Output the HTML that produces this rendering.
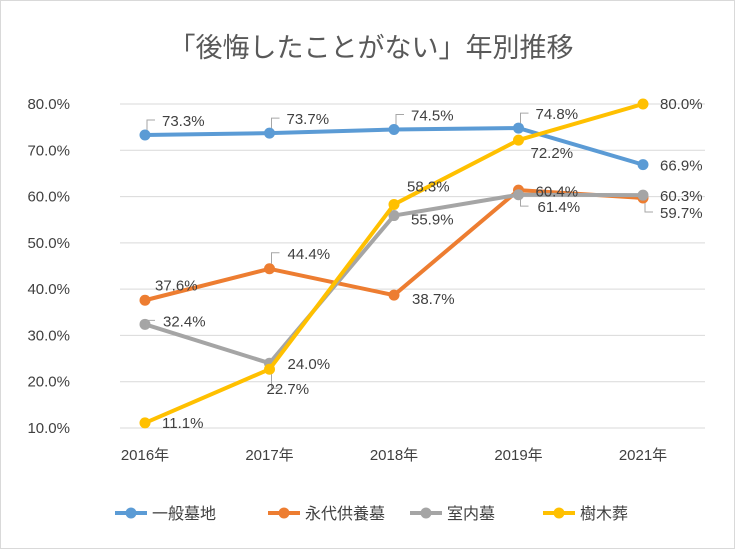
<!DOCTYPE html>
<html><head><meta charset="utf-8"><style>
body{margin:0;background:#fff}
svg{display:block;font-family:"Liberation Sans","Noto Sans CJK JP",sans-serif}
</style></head><body>
<svg id="c" width="735" height="549">
<rect x="0.5" y="0.5" width="734" height="548" fill="#fff" stroke="#d9d9d9"/>
<text x="371" y="57" font-size="27" fill="#595959" text-anchor="middle">「後悔したことがない」年別推移</text>
<g id="grid"></g><g id="lines"></g><g id="labels"></g><g id="legend"></g>
</svg>
<script>
const categories=["2016年","2017年","2018年","2019年","2021年"];
const yTicks=[10,20,30,40,50,60,70,80];
const seriesNames=["一般墓地","永代供養墓","室内墓","樹木葬"];
const ippan=[73.3,73.7,74.5,74.8,66.9];
const eidai=[37.6,44.4,38.7,61.4,59.7];
const shitsunai=[32.4,24.0,55.9,60.4,60.3];
const jumoku=[11.1,22.7,58.3,72.2,80.0];
const seriesData=[ippan,eidai,shitsunai,jumoku];
const colors=["#5b9bd5","#ed7d31","#a5a5a5","#ffc000"];
// label offsets (layout)
const offs=[
 [[17,-9,1],[17,-9,1],[17,-9,1],[17,-9,1],[17,6,0]],
 [[10,-10,0],[18,-10,1],[18,9,0],[19,22,1],[17,20,1]],
 [[18,2,1],[18,6,0],[17,9,0],[17,2,0],[17,6,0]],
 [[17,5,0],[-3,25,1],[13,-13,0],[12,18,0],[17,5,0]]
];
const NS="http://www.w3.org/2000/svg";
const X=i=>145+i*124.5;
const Y=v=>428-(v-10)*(324/70);
function mk(t,a,p){const e=document.createElementNS(NS,t);for(const k in a)e.setAttribute(k,a[k]);p.appendChild(e);return e;}
const grid=document.getElementById('grid');
yTicks.forEach(t=>{
 const l=mk('line',{x1:120,x2:705,y1:Y(t),y2:Y(t),stroke:'#d9d9d9','stroke-width':1},grid);
 
 
 const tx=mk('text',{x:70,y:Y(t)+5,'font-size':15,fill:'#404040','text-anchor':'end'},grid);
 tx.textContent=t.toFixed(1)+'%';
 
 
});
categories.forEach((c,i)=>{
 const tx=mk('text',{x:X(i),y:460,'font-size':15,fill:'#404040','text-anchor':'middle'},grid);
 tx.textContent=c;
 
 
});
const lines=document.getElementById('lines'),labels=document.getElementById('labels');
seriesData.forEach((d,s)=>{
 const pl=mk('polyline',{points:d.map((v,i)=>X(i)+','+Y(v)).join(' '),fill:'none',stroke:colors[s],'stroke-width':4,'stroke-linejoin':'round'},lines);
 
 
 d.forEach((v,i)=>{
  const c=mk('circle',{cx:X(i),cy:Y(v),r:5.5,fill:colors[s]},lines);
  
  
  const o=offs[s][i];
  const tx=X(i)+o[0],ty=Y(v)+o[1];
  if(o[2]){
   const up=o[1]<0;
   const ly=ty-6;
   const ld=mk('polyline',{points:`${X(i)+2},${Y(v)+(up?-5:5)} ${X(i)+2},${ly} ${X(i)+10},${ly}`,fill:'none',stroke:'#a6a6a6','stroke-width':1},labels);
   
   
  }
  const t=mk('text',{x:tx,y:ty,'font-size':15,fill:'#404040'},labels);
  t.textContent=v.toFixed(1)+'%';
  
  
 });
});
const lg=document.getElementById('legend');
const lx=[115,268,410,543];
seriesNames.forEach((n,s)=>{
 const l=mk('line',{x1:lx[s],x2:lx[s]+32,y1:513,y2:513,stroke:colors[s],'stroke-width':4},lg);
 
 
 const c=mk('circle',{cx:lx[s]+16,cy:513,r:5.5,fill:colors[s]},lg);
 
 
 const t=mk('text',{x:lx[s]+37,y:519,'font-size':16,fill:'#404040'},lg);
 t.textContent=n;
 
 
});
</script>
</body></html>
